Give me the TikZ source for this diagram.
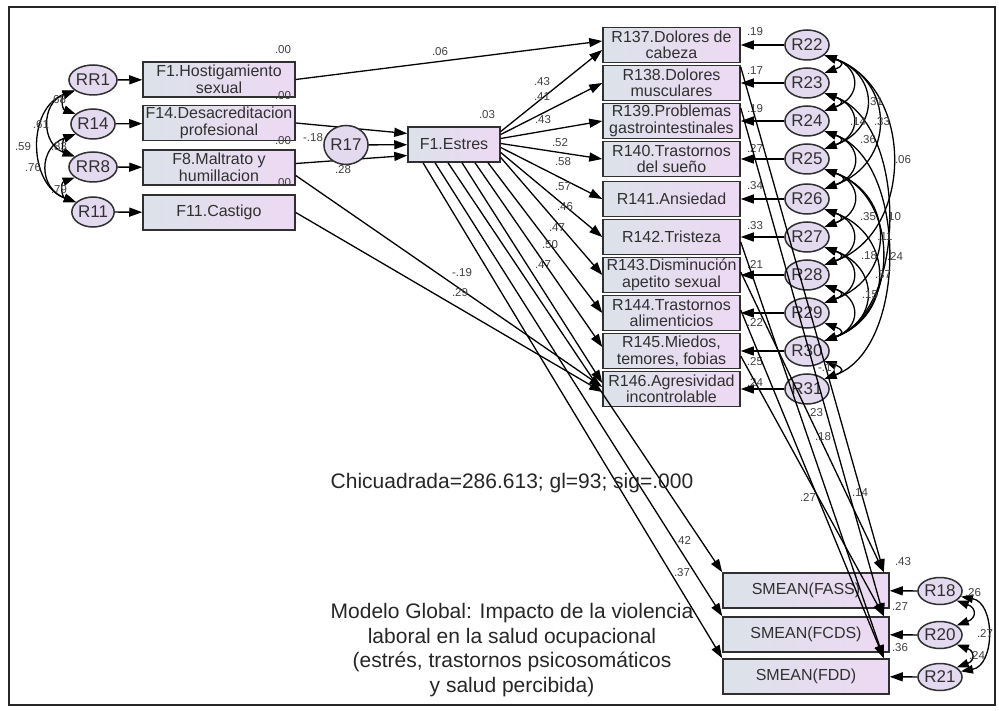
\documentclass[tikz,border=0pt]{standalone}
\usepackage{fontspec}
\setmainfont{Liberation Sans}
\usetikzlibrary{shapes.geometric,arrows.meta,calc,positioning}

\definecolor{boxleft}{HTML}{DCE2EA}
\definecolor{boxright}{HTML}{EDD9F3}
\definecolor{errfill}{HTML}{E4DAF0}
\definecolor{inkgray}{HTML}{303030}

\begin{document}
\begin{tikzpicture}[x=1pt, y=-1pt,
    obsbox/.style={draw=inkgray, line width=1.5pt, left color=boxleft, right color=boxright,
        minimum width=#1, minimum height=35pt, inner sep=0pt, align=center, text=inkgray,
        font=\fontsize{16}{16.5}\selectfont},
    errnode/.style={ellipse, draw=inkgray, line width=1.5pt, fill=errfill, minimum width=41pt,
        minimum height=30pt, inner sep=0pt, text=inkgray, font=\fontsize{17}{17}\selectfont},
    reg/.style={-{Triangle[length=13pt,width=9pt]}, line width=1.3pt},
    cov/.style={{Triangle[length=12pt,width=8.5pt]}-{Triangle[length=12pt,width=8.5pt]}, line width=1.3pt},
    coef/.style={inner sep=0pt, text=black!75, font=\fontsize{11.5}{11.5}\selectfont},
    capt/.style={align=center, text=black!85, font=\fontsize{21}{24.5}\selectfont}]

    \useasboundingbox (0,0) rectangle (999,711);
    \draw[line width=2pt, black!85] (9,7) rectangle (995,705);

    % Violence factors with their residuals
    \node[obsbox=152pt] (F1) at (219,79.5) {F1.Hostigamiento\\sexual};
    \node[obsbox=152pt] (F14) at (219,123) {F14.Desacreditacion\\profesional};
    \node[obsbox=152pt] (F8) at (219,167.5) {F8.Maltrato y\\humillacion};
    \node[obsbox=152pt] (F11) at (219,212.5) {F11.Castigo};

    \node[errnode] (RR1) at (93,80) {RR1};
    \node[errnode] (R14) at (93,124) {R14};
    \node[errnode] (RR8) at (93,167) {RR8};
    \node[errnode] (R11) at (93,212) {R11};
    \foreach \e/\f in {RR1/F1, R14/F14, RR8/F8, R11/F11}
        \draw[reg] (\e) -- (\f);

    % correlations among the factor residuals
    \foreach \a/\b/\l in {RR1/R14/1.6, R14/RR8/1.6, RR8/R11/1.6, RR1/RR8/1.4, R14/R11/1.5, RR1/R11/1.17}
        \draw[cov] (\a.210) to[out=200,in=160,looseness=\l] (\b.150);

    % Stress node
    \node[obsbox=92pt] (Est) at (454,144.5) {F1.Estres};
    \draw[reg] (F14.east) -- ($(Est.west)+(0,-11)$);
    \draw[reg] ($(F8.east)+(0,-4)$) -- ($(Est.west)+(0,11)$);
    \node[errnode, minimum width=39pt, minimum height=39pt] (R17) at (346,145) {R17};
    \draw[reg] (R17) -- (Est);

    % Psychosomatic symptoms
    \node[obsbox=137pt] (R137) at (671.5,45) {R137.Dolores de\\cabeza};
    \node[obsbox=137pt] (R138) at (671.5,83) {R138.Dolores\\musculares};
    \node[obsbox=137pt] (R139) at (671.5,121) {R139.Problemas\\gastrointestinales};
    \node[obsbox=137pt] (R140) at (671.5,159) {R140.Trastornos\\del sueño};
    \node[obsbox=137pt] (R141) at (671.5,199) {R141.Ansiedad};
    \node[obsbox=137pt] (R142) at (671.5,237) {R142.Tristeza};
    \node[obsbox=137pt] (R143) at (671.5,275) {R143.Disminución\\apetito sexual};
    \node[obsbox=137pt] (R144) at (671.5,313) {R144.Trastornos\\alimenticios};
    \node[obsbox=137pt] (R145) at (671.5,351) {R145.Miedos,\\temores, fobias};
    \node[obsbox=137pt] (R146) at (671.5,389) {R146.Agresividad\\incontrolable};

    \foreach \e/\b/\ly/\v in {22/137/32/.19, 23/138/71/.17, 24/139/109/.19, 25/140/148/.27, 26/141/186/.34,
                              27/142/226/.33, 28/143/264/.21, 29/144/322/.22, 30/145/362/.25, 31/146/382/.24}{
        \node[errnode] (R\e) at ($(R\b)+(135.5,0)$) {R\e};
        \draw[reg] (R\e) -- (R\b);
        \node[coef] (e\e) at (755,\ly) {\v};
    }

    % correlations among the symptom residuals
    \foreach \i/\j/\l in {22/23/3, 23/24/3, 24/25/3, 25/26/3, 26/27/3, 27/28/3, 28/29/3, 29/30/3, 30/31/3,
                          22/24/1.8, 23/25/1.8, 24/26/1.8, 25/27/1.8, 26/28/1.8, 27/29/1.8, 28/30/1.8,
                          22/25/1.6, 22/26/1.45, 22/28/1.17, 23/30/0.92, 24/31/0.92,
                          25/29/1.45, 26/30/1.45, 25/30/1.2, 27/30/1.6}
        \draw[cov] (R\i.-30) to[out=-20,in=20,looseness=\l] (R\j.30);

    % Stress -> symptoms
    \draw[reg] (F1.east) -- ($(R137.west)+(0,-4)$);
    \draw[reg] ($(Est.east)+(0,-13)$) -- ($(R137.west)+(0,5)$);
    \foreach \t/\dy in {138/-10, 139/-6, 140/-1, 141/3, 142/8, 143/13}
        \draw[reg] ($(Est.east)+(0,\dy)$) -- (R\t.west);
    \foreach \t/\dx/\dy in {144/34/0, 145/21/-4, 146/8/-6}
        \draw[reg] ($(Est.south)+(\dx,0)$) -- ($(R\t.west)+(0,\dy)$);
    \draw[reg] ($(F8.east)+(0,8)$) -- ($(R146.west)+(0,-2)$);
    \draw[reg] (F11.east) -- ($(R146.west)+(0,3)$);

    % Perceived health outcomes
    \node[obsbox=166pt] (FASS) at (806,590.5) {SMEAN(FASS)};
    \node[obsbox=166pt] (FCDS) at (806,634.5) {SMEAN(FCDS)};
    \node[obsbox=166pt] (FDD) at (806,676.5) {SMEAN(FDD)};

    \node[errnode, minimum width=38pt, minimum height=27pt] (R18) at (940,591) {R18};
    \node[errnode, minimum width=38pt, minimum height=27pt] (R20) at (940,635) {R20};
    \node[errnode, minimum width=38pt, minimum height=27pt] (R21) at (940,677) {R21};
    \foreach \e/\s in {R18/FASS, R20/FCDS, R21/FDD}
        \draw[reg] (\e) -- (\s);
    \draw[cov] (R18.-30) to[out=-20,in=20,looseness=2.2] (R20.30);
    \draw[cov] (R20.-30) to[out=-20,in=20,looseness=2.2] (R21.30);
    \draw[cov] (R18.-15) to[out=-10,in=10,looseness=1.2] (R21.15);

    \foreach \s/\dx in {FASS/-6, FCDS/-19, FDD/-31}
        \draw[reg] ($(Est.south)+(\dx,0)$) -- (\s.north west);
    \foreach \a/\dy/\s in {138/-16/FASS, 139/-13/FCDS, 142/5/FDD, 143/-3/FASS, 144/-3/FDD, 145/5/FCDS}
        \draw[reg] ($(R\a.east)+(0,\dy)$) -- ($(\s.north east)+(-6,0)$);

    % estimates
    \foreach \x/\y/\v [count=\n] in {
        58/100/.68, 41/125/.61, 23/147/.59, 59/147/.83, 33/168/.76, 59/190/.79,
        283/50/.00, 283/96/.00, 283/141/.00, 283/183/.00,
        440/52/.06, 313/138/-.18, 343/170/.28, 487/115/.03,
        542/82/.43, 542/97/.41, 543/120/.43, 560/143/.52, 563/162/.58, 563/187/.57,
        565/207/.46, 557/228/.47, 550/245/.50, 543/265/.47, 462/273/-.19, 460/293/.29,
        683/540/.42, 682/573/.37,
        815/413/.23, 823/437/.18, 808/497/.27, 860/493/.14,
        903/562/.43, 900/606/.27, 900/648/.36,
        973/593/.26, 985/633/.27, 977/655/.24,
        875/102/.31, 882/122/.33, 858/122/.14, 868/140/.36, 903/160/.06,
        868/217/.35, 893/217/.10, 885/237/.11, 869/256/.18, 895/256/.24,
        883/275/.37, 870/295/.15, 828/368/-.17}
        \node[coef] (c\n) at (\x,\y) {\v};

    % fit and title
    \node[capt] (chi) at (512,483) {Chicuadrada=286.613; gl=93; sig=.000};
    \node[capt] (title) at (512,650) {Modelo Global: Impacto de la violencia\\laboral en la salud ocupacional\\(estrés, trastornos psicosomáticos\\y salud percibida)};

\end{tikzpicture}
\end{document}
